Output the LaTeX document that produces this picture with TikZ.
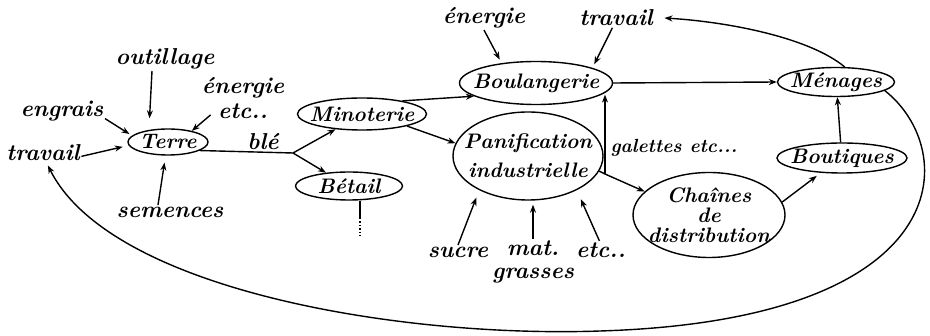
\documentclass[tikz,border=0pt]{standalone}
\usepackage{tikz}
\usetikzlibrary{shapes.geometric,arrows.meta}

\begin{document}
\begin{tikzpicture}[x=1pt,y=-1pt,line width=1.4pt,
  every node/.style={font=\fontsize{23}{24}\selectfont\bfseries\itshape,inner sep=1pt},
  bubble/.style n args={2}{ellipse,draw,minimum width=#1,minimum height=#2,inner xsep=-60pt,inner ysep=-40pt,align=center,
    font=\fontsize{21}{22}\selectfont\bfseries\itshape},
  arr/.style={-{Stealth[length=8pt,width=6pt]}}]
\useasboundingbox (0,0) rectangle (930,336);
% blocs
\node[bubble={80}{26}] (terre) at (168,142) {Terre};
\node[bubble={129}{32}] (minot) at (362,114) {Minoterie};
\node[bubble={107}{28}] (betail) at (349,186) {Bétail};
\node[bubble={153}{43}] (boul) at (536,83) {Boulangerie};
\node[bubble={150}{88}] (panif) at (528,156) {Panification\\[7pt]industrielle};
\node[bubble={117}{29}] (menages) at (836,82) {Ménages};
\node[bubble={130}{30}] (bout) at (842,158) {Boutiques};
\node[bubble={152}{85}] (chaines) at (709,215) {Chaînes\\[-2pt]de\\[-2pt]distribution};
% textes
\node (outil) at (165,59) {outillage};
\node[align=center] (energA) at (243,98) {énergie\\[1pt]etc..};
\node (engrais) at (62,111) {engrais};
\node (travA) at (43,153) {travail};
\node (semences) at (170,212) {semences};
\node (ble) at (263,142) {blé};
\node (energB) at (484,18) {énergie};
\node (travB) at (616,18) {travail};
\node[font=\fontsize{19}{20}\selectfont\bfseries\itshape] (galettes) at (674,148) {galettes etc...};
\node (sucre) at (458,252) {sucre};
\node[align=center] (matgr) at (533,262) {mat.\\[-1pt]grasses};
\node (etcB) at (601,250) {etc..};
\coordinate (fork) at (293,153);
\coordinate (fork2) at (605,174);
\coordinate (betaildot) at (360,218);
\coordinate (betailend) at (360,238);
% fleches
\draw[arr,shorten >=10pt] ([xshift=-13pt]outil.south) -- ([xshift=-19pt]terre.north);
\draw[arr,shorten <=2pt] ([xshift=12pt]energA.-160) -- (terre.25);
\draw[arr,shorten >=3pt] (engrais.-10) -- (terre.170);
\draw[arr,shorten >=6pt] (travA.-5) -- (terre.185);
\draw[arr,shorten >=7pt] ([xshift=-12pt]semences.north) -- (terre.-100);
\draw (terre.-15) -- (fork);
\draw[arr] (fork) -- (minot.-150);
\draw[arr] (fork) -- (betail.150);
\draw (betail.south -| betaildot) -- (betaildot);
\draw[dotted] (betaildot) -- (betailend);
\draw[arr] (minot.18) -- (boul.192);
\draw[arr] (minot.-15) -- (panif.170);
\draw[arr,shorten >=4pt] (energB.south) -- (boul.150);
\draw[arr,shorten >=4pt] (travB.-110) -- (boul.15);
\draw[arr] (boul.east) -- (menages.west);
\draw[arr] (menages.60) .. controls (810,38) and (730,22) .. ([xshift=10pt]travB.east);
\draw[arr] (bout.95) -- (menages.-85);
\draw[arr,shorten >=5pt] (chaines.10) -- (bout.-145);
\draw (panif.-12) -- (fork2);
\draw[arr] (fork2) -- (fork2 |- boul.-10);
\draw[arr] (fork2) -- (chaines.160);
\draw[arr,shorten >=8pt] (sucre.north) -- (panif.-145);
\draw[arr,shorten >=4pt] (matgr.north) -- (matgr.north |- panif.south);
\draw[arr,shorten >=10pt] (etcB.100) -- (panif.-35);
\draw[arr,shorten >=3pt] (menages.-10) .. controls (960,150) and (960,320) .. (600,331)
  .. controls (400,338) and (110,290) .. (travA.-70);
\end{tikzpicture}
\end{document}
